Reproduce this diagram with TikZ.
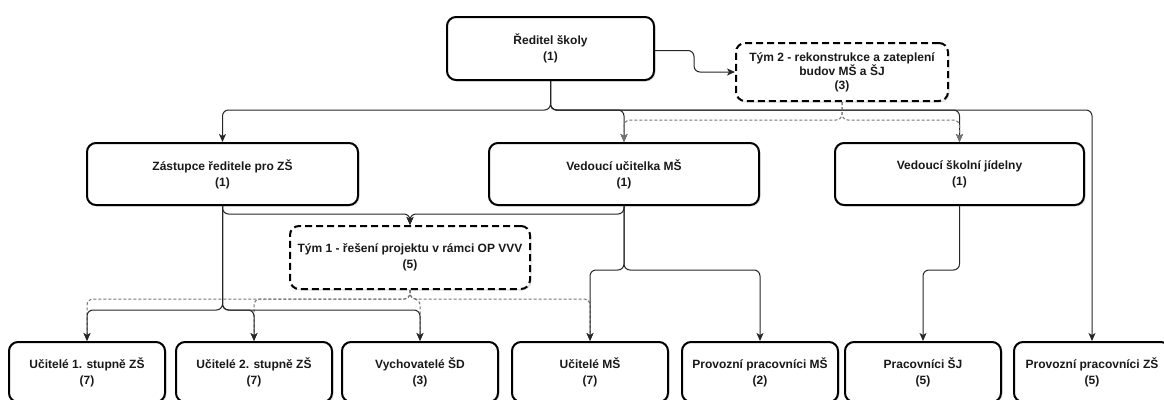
\documentclass[tikz,border=0pt]{standalone}
\usepackage{fontspec}
\setmainfont{Liberation Sans}
\usetikzlibrary{arrows.meta,shadows}
\begin{document}
\begin{tikzpicture}[x=1pt,y=-1pt,
  box/.style={draw=black, line width=2pt, rounded corners=9pt, fill=white,
    align=center, inner sep=0pt, text=black!90,
    font=\bfseries\fontsize{12}{16}\selectfont,
    drop shadow={opacity=0.22, shadow xshift=1.5pt, shadow yshift=-1.5pt}},
  teambox/.style={box, dash pattern=on 7pt off 4pt},
  conn/.style={draw=black!85, line width=1pt, rounded corners=6pt,
    -{Stealth[length=8pt,width=7pt,inset=2pt]}},
  dotconn/.style={conn, draw=black!55, dash pattern=on 3pt off 2pt},
  bottombox/.style={box, minimum width=156pt, minimum height=60pt}]
\useasboundingbox (0,0) rectangle (1164,399);
\clip (0,0) rectangle (1164,399);

% bus coordinates
\coordinate (bus) at (0,110);
\coordinate (bustwo) at (0,120);
\coordinate (teambus) at (0,214);
\coordinate (dotbus) at (0,299);
\coordinate (zbus) at (0,310);
\coordinate (mbus) at (0,270);
\coordinate (jog) at (0,270);

% nodes
\node[box, minimum width=207pt, minimum height=63pt] (dir) at (550.5,48.5) {Ředitel školy\\(1)};
\node[teambox, minimum width=212pt, minimum height=58pt, font=\bfseries\fontsize{12}{14}\selectfont] (t2) at (842,72) {Tým 2 - rekonstrukce a zateplení\\budov MŠ a ŠJ\\(3)};
\node[box, minimum width=271pt, minimum height=62pt] (zast) at (222.5,174) {Zástupce ředitele pro ZŠ\\(1)};
\node[box, minimum width=270pt, minimum height=62pt] (vum) at (624,174) {Vedoucí učitelka MŠ\\(1)};
\node[box, minimum width=249pt, minimum height=62pt] (vsj) at (959.5,174) {Vedoucí školní jídelny\\(1)};
\node[teambox, minimum width=240pt, minimum height=63pt] (t1) at (410,257.5) {Tým 1 - řešení projektu v rámci OP VVV\\(5)};

\node[bottombox] (u1) at (87,372) {Učitelé 1. stupně ZŠ\\(7)};
\node[bottombox] (u2) at (254,372) {Učitelé 2. stupně ZŠ\\(7)};
\node[bottombox] (vsd) at (420,372) {Vychovatelé ŠD\\(3)};
\node[bottombox] (ums) at (590,372) {Učitelé MŠ\\(7)};
\node[bottombox] (ppms) at (760,372) {Provozní pracovníci MŠ\\(2)};
\node[bottombox] (psj) at (923,372) {Pracovníci ŠJ\\(5)};
\node[bottombox] (ppzs) at (1092,372) {Provozní pracovníci ZŠ\\(5)};

% director connectors
\draw[conn] ([yshift=-2pt]dir.east) -- ++(39,0) |- (t2.west);
\draw[conn] (dir.south) -- (dir.south |- bus) -| (zast.north);
\draw[conn] (dir.south) -- (dir.south |- bus) -| (vum.north);
\draw[conn] (dir.south) -- (dir.south |- bus) -| (vsj.north);
\draw[conn] (dir.south) -- (dir.south |- bus) -| (ppzs.north);

% team 2 dotted
\draw[dotconn] (t2.south) -- (t2.south |- bustwo) -| (vum.north);
\draw[dotconn] (t2.south) -- (t2.south |- bustwo) -| (vsj.north);

% to team 1
\draw[conn] (zast.south) -- (zast.south |- teambus) -| (t1.north);
\draw[conn] (vum.south) -- (vum.south |- teambus) -| (t1.north);

% team 1 dotted
\draw[dotconn] (t1.south) -- (t1.south |- dotbus) -| (u1.north);
\draw[dotconn] (t1.south) -- (t1.south |- dotbus) -| (u2.north);
\draw[dotconn] (t1.south) -- (t1.south |- dotbus) -| (vsd.north);
\draw[dotconn] (t1.south) -- (t1.south |- dotbus) -| (ums.north);

% zastupce
\draw[conn] (zast.south) -- (zast.south |- zbus) -| (u1.north);
\draw[conn] (zast.south) -- (zast.south |- zbus) -| (u2.north);
\draw[conn] (zast.south) -- (zast.south |- zbus) -| (vsd.north);

% vedouci ucitelka
\draw[conn] (vum.south) -- (vum.south |- mbus) -| (ums.north);
\draw[conn] (vum.south) -- (vum.south |- mbus) -| (ppms.north);

% jidelna
\draw[conn] (vsj.south) -- (vsj.south |- jog) -| (psj.north);
\end{tikzpicture}
\end{document}
